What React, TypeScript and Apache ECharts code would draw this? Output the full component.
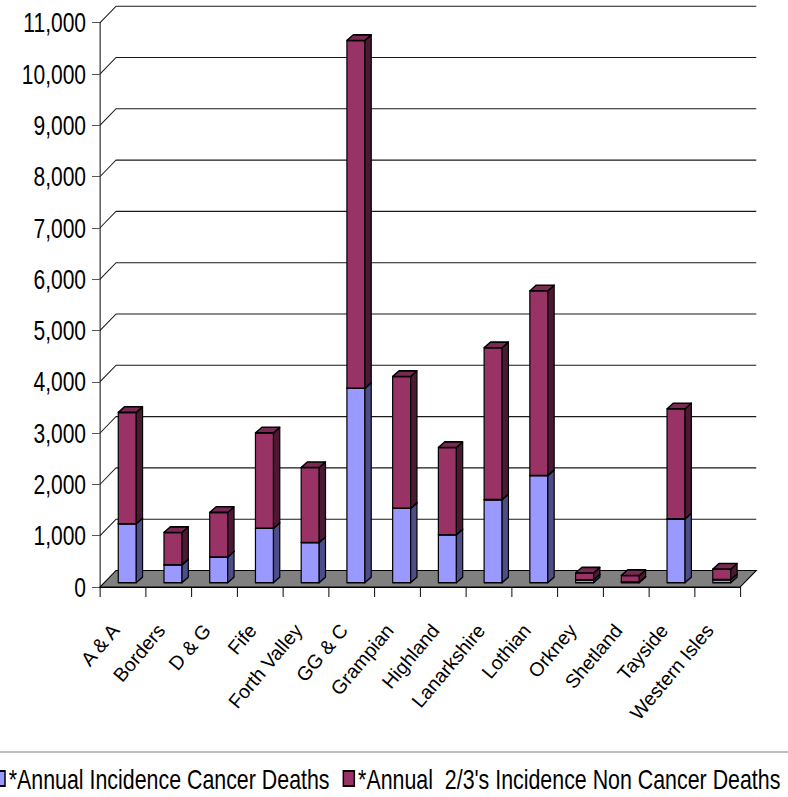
import React, { useEffect, useRef } from "react";
import * as echarts from "echarts";

// Health board regions along the category axis
const categories = [
  "A & A",
  "Borders",
  "D & G",
  "Fife",
  "Forth Valley",
  "GG & C",
  "Grampian",
  "Highland",
  "Lanarkshire",
  "Lothian",
  "Orkney",
  "Shetland",
  "Tayside",
  "Western Isles",
];

// Stacked values per region
const cancerDeaths = [1150, 350, 500, 1060, 785, 3790, 1450, 935, 1620, 2090, 55, 15, 1245, 60];
const nonCancerDeaths = [2170, 630, 870, 1860, 1460, 6780, 2570, 1700, 2960, 3600, 135, 125, 2145, 205];

// Value axis extent and the back-wall grid values
const yMax = 11000;
const yStep = 1000;
const wallGridValues = [1000, 2000, 3000, 4000, 5000, 6000, 7000, 8000, 9000, 10000, 11000];

const seriesNames = ["*Annual Incidence Cancer Deaths", "*Annual  2/3's Incidence Non Cancer Deaths"];

// Page size and plot box (final pixels)
const W = 788;
const H = 797;
const PLOT_LEFT = 100;
const PLOT_RIGHT = 48;
const PLOT_TOP = 22.7;
const PLOT_BOTTOM = 210;

// No narrow face is installed, so the main chart is laid out wide and
// squeezed horizontally by K, which gives condensed horizontal lettering.
const K = 0.75;
const hx = (v: number) => v / K; // horizontal length in layout units

const FONT = "'Liberation Sans', Arial, sans-serif";

// Oblique projection of the 3D box
const WALL_DX = hx(16);
const WALL_DY = -16.5;
const BAR_SHIFT_X = hx(4.4);
const BAR_SHIFT_Y = -4.3;
const BAR_DEPTH_X = hx(6.3);
const BAR_DEPTH_Y = -5.6;
const BAR_RATIO = 0.394;

const palettes = [
  { front: "#9999FF", side: "#4D4D88", top: "#7A7ACC" },
  { front: "#993366", side: "#4C1933", top: "#7A2952" },
];

function makeBarRenderer(seriesIndex: number) {
  const pal = palettes[seriesIndex];
  return (params: any, api: any) => {
    const idx = api.value(0);
    const v0 = api.value(1);
    const v1 = api.value(2);
    const p0 = api.coord([idx, v0]);
    const p1 = api.coord([idx, v1]);
    const band = api.size([1, 0])[0];
    const w = band * BAR_RATIO;
    const xl = p0[0] - w / 2 + BAR_SHIFT_X;
    const xr = xl + w;
    const yb = p0[1] + BAR_SHIFT_Y;
    const yt = p1[1] + BAR_SHIFT_Y;
    const stroke = { stroke: "#000", lineWidth: 1.6, lineJoin: "round" };
    return {
      type: "group",
      children: [
        {
          type: "polygon",
          shape: { points: [[xl, yb], [xr, yb], [xr, yt], [xl, yt]] },
          style: { fill: pal.front, ...stroke },
        },
        {
          type: "polygon",
          shape: {
            points: [
              [xr, yb],
              [xr, yt],
              [xr + BAR_DEPTH_X, yt + BAR_DEPTH_Y],
              [xr + BAR_DEPTH_X, yb + BAR_DEPTH_Y],
            ],
          },
          style: { fill: pal.side, ...stroke },
        },
        {
          type: "polygon",
          shape: {
            points: [
              [xl, yt],
              [xr, yt],
              [xr + BAR_DEPTH_X, yt + BAR_DEPTH_Y],
              [xl + BAR_DEPTH_X, yt + BAR_DEPTH_Y],
            ],
          },
          style: { fill: pal.top, ...stroke },
        },
      ],
    };
  };
}

export default function App() {
  const mainRef = useRef<HTMLDivElement>(null);
  const labelRef = useRef<HTMLDivElement>(null);

  useEffect(() => {
    document.body.style.margin = "0";
    if (!mainRef.current || !labelRef.current) return;
    const chart = echarts.init(mainRef.current, undefined, { renderer: "svg" });
    const labels = echarts.init(labelRef.current, undefined, { renderer: "svg" });

    const lowerData = categories.map((_, i) => [i, 0, cancerDeaths[i]]);
    const upperData = categories.map((_, i) => [
      i,
      cancerDeaths[i],
      cancerDeaths[i] + nonCancerDeaths[i],
    ]);

    chart.setOption({
      animation: false,
      backgroundColor: "#fff",
      grid: {
        left: hx(PLOT_LEFT),
        right: hx(PLOT_RIGHT),
        top: PLOT_TOP,
        bottom: PLOT_BOTTOM,
        containLabel: false,
      },
      legend: {
        left: hx(-6.75),
        top: 764,
        padding: 0,
        itemGap: hx(13),
        itemWidth: hx(11),
        itemHeight: 15,
        icon: "rect",
        data: seriesNames,
        textStyle: { fontFamily: FONT, fontSize: 28.5, color: "#000", lineHeight: 28 },
      },
      graphic: [
        {
          // top edge of the legend box
          type: "rect",
          shape: { x: -20, y: 752, width: hx(W) + 40, height: 80 },
          style: { fill: "none", stroke: "#7f7f7f", lineWidth: 1.2 },
          silent: true,
          z: -1,
        },
      ],
      xAxis: {
        type: "category",
        data: categories,
        axisLine: { show: true, lineStyle: { color: "#000", width: 1.2 } },
        axisTick: { show: true, length: 10, interval: 0, lineStyle: { color: "#000", width: 1.3 } },
        // the slanted category names are drawn by the unsqueezed overlay chart
        axisLabel: { show: false },
        splitLine: { show: false },
      },
      yAxis: {
        type: "value",
        min: 0,
        max: yMax,
        interval: yStep,
        axisLine: { show: true, lineStyle: { color: "#000", width: 1.3 } },
        axisTick: { show: true, length: hx(8), lineStyle: { color: "#404040" } },
        axisLabel: {
          margin: hx(14),
          fontFamily: FONT,
          fontSize: 28,
          color: "#000",
          formatter: (v: number) => v.toLocaleString("en-US"),
        },
        splitLine: { show: false },
      },
      series: [
        {
          // floor of the 3D box
          type: "custom",
          silent: true,
          z: 1,
          clip: false,
          data: [[0, 0]],
          encode: { x: 0, y: 1 },
          renderItem: (params: any, api: any) => {
            const cs = params.coordSys;
            const y0 = api.coord([0, 0])[1];
            const x0 = cs.x;
            const x1 = cs.x + cs.width;
            return {
              type: "polygon",
              shape: {
                points: [
                  [x0, y0],
                  [x0 + WALL_DX, y0 + WALL_DY],
                  [x1 + WALL_DX, y0 + WALL_DY],
                  [x1, y0],
                ],
              },
              style: { fill: "#808080", stroke: "#000", lineWidth: 1.2 },
            };
          },
        },
        {
          // side-wall diagonals and back-wall gridlines
          type: "custom",
          silent: true,
          z: 1,
          clip: false,
          data: wallGridValues.map((v) => [0, v]),
          encode: { x: 0, y: 1 },
          renderItem: (params: any, api: any) => {
            const cs = params.coordSys;
            const y = api.coord([0, api.value(1)])[1];
            const x0 = cs.x;
            const x1 = cs.x + cs.width;
            return {
              type: "polyline",
              shape: {
                points: [
                  [x0, y],
                  [x0 + WALL_DX, y + WALL_DY],
                  [x1 + WALL_DX, y + WALL_DY],
                ],
              },
              style: { fill: "none", stroke: "#1a1a1a", lineWidth: 1.1 },
            };
          },
        },
        {
          name: seriesNames[0],
          type: "custom",
          z: 3,
          clip: false,
          itemStyle: { color: palettes[0].front, borderColor: "#000", borderWidth: 1.5 },
          data: lowerData,
          encode: { x: 0, y: [1, 2] },
          renderItem: makeBarRenderer(0),
        },
        {
          name: seriesNames[1],
          type: "custom",
          z: 3,
          clip: false,
          itemStyle: { color: palettes[1].front, borderColor: "#000", borderWidth: 1.5 },
          data: upperData,
          encode: { x: 0, y: [1, 2] },
          renderItem: makeBarRenderer(1),
        },
      ],
    });

    // Overlay with the same plot box in page pixels, carrying the category names
    labels.setOption({
      animation: false,
      grid: {
        left: PLOT_LEFT,
        right: PLOT_RIGHT,
        top: PLOT_TOP,
        bottom: PLOT_BOTTOM,
        containLabel: false,
      },
      xAxis: {
        type: "category",
        data: categories,
        axisLine: { show: false },
        axisTick: { show: false },
        splitLine: { show: false },
        axisLabel: {
          interval: 0,
          rotate: 50,
          margin: 46,
          align: "right",
          verticalAlign: "bottom",
          fontFamily: FONT,
          fontSize: 19.5,
          color: "#000",
        },
      },
      yAxis: { type: "value", min: 0, max: yMax, show: false },
      series: [],
    });

    return () => {
      labels.dispose();
      chart.dispose();
    };
  }, []);

  return (
    <div style={{ width: W, height: H, overflow: "hidden", position: "relative" }}>
      <div
        ref={mainRef}
        style={{
          width: hx(W),
          height: H,
          transform: `scaleX(${K})`,
          transformOrigin: "0 0",
        }}
      />
      <div
        ref={labelRef}
        style={{ position: "absolute", left: 0, top: 0, width: W, height: H, pointerEvents: "none" }}
      />
    </div>
  );
}
